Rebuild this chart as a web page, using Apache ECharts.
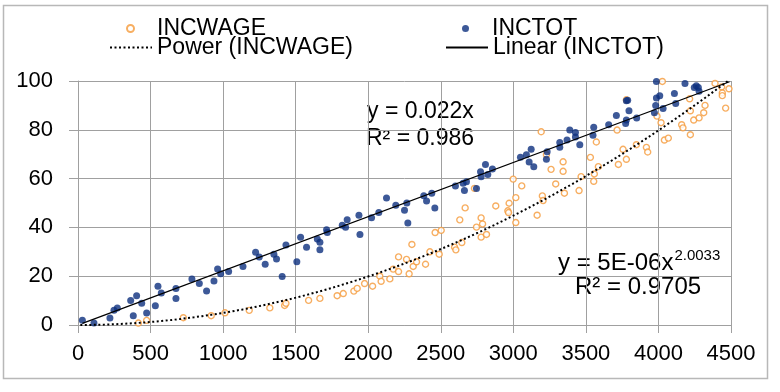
<!DOCTYPE html>
<html><head><meta charset="utf-8">
<script src="https://cdn.jsdelivr.net/npm/echarts@6/dist/echarts.min.js"></script>
<style>html,body{margin:0;padding:0;background:#fff}#c{width:780px;height:392px}</style>
</head><body><div id="c"></div>
<script>
const xTicks = [0,500,1000,1500,2000,2500,3000,3500,4000,4500];
const yTicks = [0,20,40,60,80,100];
const seriesNames = ['INCWAGE','INCTOT','Power (INCWAGE)','Linear (INCTOT)'];
const totX = [30,110,220,248,271,363,381,404,439,473,533,551,574,675,675,785,836,886,937,962,983,1038,1137,1224,1249,1290,1350,1368,1407,1433,1508,1534,1575,1649,1667,1667,1713,1718,1821,1844,1855,1936,1943,2023,2073,2126,2190,2250,2266,2273,2383,2402,2438,2459,2601,2654,2663,2677,2746,2774,2778,2808,2824,2856,3049,3090,3109,3123,3141,3228,3233,3320,3320,3370,3389,3428,3428,3458,3549,3554,3657,3710,3774,3779,3779,3788,3797,3850,3972,3981,3986,3986,4009,4032,4110,4119,4183,4247,4261,4275,4280];
const totY = [1.9,0.8,2.9,6.0,7.0,10.0,3.8,12.0,8.9,4.9,7.9,15.9,13.1,15.0,10.9,18.9,17.0,13.9,18.0,22.9,21.0,21.9,24.0,29.8,27.9,24.9,29.0,27.0,19.9,32.8,25.9,36.0,31.9,35.2,33.9,30.8,39.0,37.9,40.9,40.1,43.1,45.0,37.1,44.0,46.1,52.1,49.1,47.0,50.0,41.8,53.0,50.8,54.0,48.0,57.0,58.1,55.1,58.7,55.9,62.8,60.8,65.8,61.7,63.9,68.8,69.8,66.8,72.0,64.9,67.9,71.0,72.8,74.8,75.8,79.9,78.9,77.1,73.9,77.8,81.0,82.1,85.9,82.6,84.0,91.9,92.1,87.8,84.8,87.0,90.0,99.8,93.0,94.0,88.7,94.9,90.8,99.0,97.3,98.1,97.3,95.8];
const wageX = [416,473,726,918,1013,1180,1322,1424,1433,1589,1667,1786,1828,1901,1924,1975,2030,2080,2089,2149,2172,2209,2209,2264,2282,2301,2310,2333,2395,2425,2461,2489,2503,2595,2604,2631,2645,2668,2732,2746,2778,2778,2788,2815,2879,2962,2967,2971,2999,3017,3017,3058,3164,3192,3200,3205,3228,3260,3292,3343,3343,3352,3453,3467,3531,3554,3558,3572,3586,3715,3724,3756,3779,3779,3848,3917,3926,3990,4018,4027,4041,4068,4160,4169,4215,4220,4220,4243,4280,4312,4321,4390,4436,4440,4440,4463,4486];
const wageY = [0.8,1.9,3.0,3.8,5.0,6.0,7.0,8.0,8.9,10.1,10.9,12.0,12.9,13.9,15.0,17.0,15.9,20.0,17.9,18.9,22.9,21.9,27.9,26.9,21.0,33.0,24.0,25.9,24.9,30.0,37.9,29.0,38.8,31.9,30.8,43.1,33.8,48.0,56.0,40.1,43.9,36.0,41.4,37.1,48.8,46.8,46.1,49.9,59.8,52.2,42.0,57.0,45.0,79.2,52.9,51.0,69.8,63.8,57.8,66.9,63.0,54.0,55.1,60.8,68.7,58.9,61.9,75.0,64.9,79.9,65.8,72.0,67.9,92.3,73.9,72.8,70.9,85.6,82.9,99.8,75.8,76.6,82.1,80.8,92.7,78.0,87.8,84.0,84.9,87.0,90.0,99.0,97.6,95.1,94.0,88.9,96.8];
// trendline parameters
const linSlope = 0.0222;
const powA = 4.85e-6, powB = 2.0033;
const eqLinear = ['y = 0.022x','R² = 0.986'];
const eqPower = ['y = 5E-06x','2.0033','R² = 0.9705'];

const zip = (xs, ys) => xs.map((x, i) => [x, ys[i]]);
const minOf = a => Math.min(...a), maxOf = a => Math.max(...a);
const linData = [minOf(totX), maxOf(totX) + 210].map(x => [x, linSlope * x]);
const powData = [];
{ const x0 = minOf(wageX) - 400, x1 = maxOf(wageX) + 4, n = 80;
  for (let i = 0; i <= n; i++) { const x = x0 + (x1 - x0) * i / n; powData.push([x, powA * Math.pow(x, powB)]); } }

const FONT = 'Liberation Sans';
const FS = 23;
const gray = '#a0a0a0';
const chart = echarts.init(document.getElementById('c'), null, {renderer: 'canvas'});
const legBase = {orient:'horizontal', itemWidth: 43, itemHeight: 10, textStyle:{fontFamily:FONT,fontSize:FS,color:'#000'}, selectedMode:false, padding: 0};
const hideSym = {color: 'rgba(0,0,0,0)', borderWidth: 0, opacity: 0};
chart.setOption({
  animation: false,
  backgroundColor: '#fff',
  textStyle: {fontFamily: FONT},
  grid: {left: 78, right: 49, top: 81, bottom: 67},
  legend: [
    Object.assign({}, legBase, {data: [{name: seriesNames[0], icon: 'circle'}], left: 126, top: 17, itemHeight: 7}),
    Object.assign({}, legBase, {data: [{name: seriesNames[1], icon: 'circle'}], left: 462, top: 17, itemHeight: 7}),
    Object.assign({}, legBase, {data: [{name: seriesNames[2], itemStyle: hideSym}], left: 109, top: 36, itemWidth: 42}),
    Object.assign({}, legBase, {data: [{name: seriesNames[3], itemStyle: hideSym}], left: 445, top: 36, itemWidth: 42})
  ],
  xAxis: {
    type: 'value', min: 0, max: 4500, interval: 500,
    axisLine: {show: true, lineStyle: {color: gray}},
    axisTick: {show: true, length: 8, lineStyle: {color: gray}},
    splitLine: {show: true, lineStyle: {color: gray, width: 1}},
    axisLabel: {color: '#000', fontSize: FS - 1, fontFamily: FONT, margin: 18, formatter: v => String(v)}
  },
  yAxis: {
    type: 'value', min: 0, max: 100, interval: 20,
    axisLine: {show: true, lineStyle: {color: gray}},
    axisTick: {show: true, length: 9, lineStyle: {color: gray}},
    splitLine: {show: true, lineStyle: {color: gray, width: 1}},
    axisLabel: {color: '#000', fontSize: FS - 1, fontFamily: FONT, margin: 25}
  },
  series: [
    {name: seriesNames[0], type: 'scatter', data: zip(wageX, wageY), symbol: 'circle', symbolSize: 6,
     itemStyle: {color: '#fff', borderColor: '#f59a3a', borderWidth: 1.4}, z: 3},
    {name: seriesNames[1], type: 'scatter', data: zip(totX, totY), symbol: 'circle', symbolSize: 7,
     itemStyle: {color: '#0d2f7e'}, z: 4},
    {name: seriesNames[2], type: 'line', data: powData, showSymbol: false, symbol: 'none',
     lineStyle: {color: '#000', width: 2, type: [2, 2.5]}, itemStyle: {color: '#000'}, z: 5},
    {name: seriesNames[3], type: 'line', data: linData, showSymbol: false, symbol: 'none',
     lineStyle: {color: '#000', width: 1.2}, itemStyle: {color: '#000'}, z: 5}
  ],
  graphic: [
    {type: 'rect', shape: {x: 3.5, y: 5.5, width: 764, height: 373}, style: {fill: 'none', stroke: '#b8b8b8', lineWidth: 1.5}, silent: true, z: -1},
    {type: 'text', style: {x: 367, y: 112, text: eqLinear[0], font: FS + 'px "Liberation Sans"', fill: '#000', verticalAlign: 'middle'}},
    {type: 'text', style: {x: 366, y: 139, text: eqLinear[1], font: FS + 'px "Liberation Sans"', fill: '#000', verticalAlign: 'middle'}},
    {type: 'text', style: {x: 558, y: 263, verticalAlign: 'middle', fill: '#000',
      text: '{m|' + eqPower[0] + '}{s|' + eqPower[1] + '}',
      rich: {m: {fontSize: FS + 1, fontFamily: FONT}, s: {fontSize: 15, fontFamily: FONT, padding: [0, 0, 14, 1]}}}},
    {type: 'text', style: {x: 575, y: 287, text: eqPower[2], font: (FS + 1) + 'px "Liberation Sans"', fill: '#000', verticalAlign: 'middle'}}
  ]
});
</script></body></html>
